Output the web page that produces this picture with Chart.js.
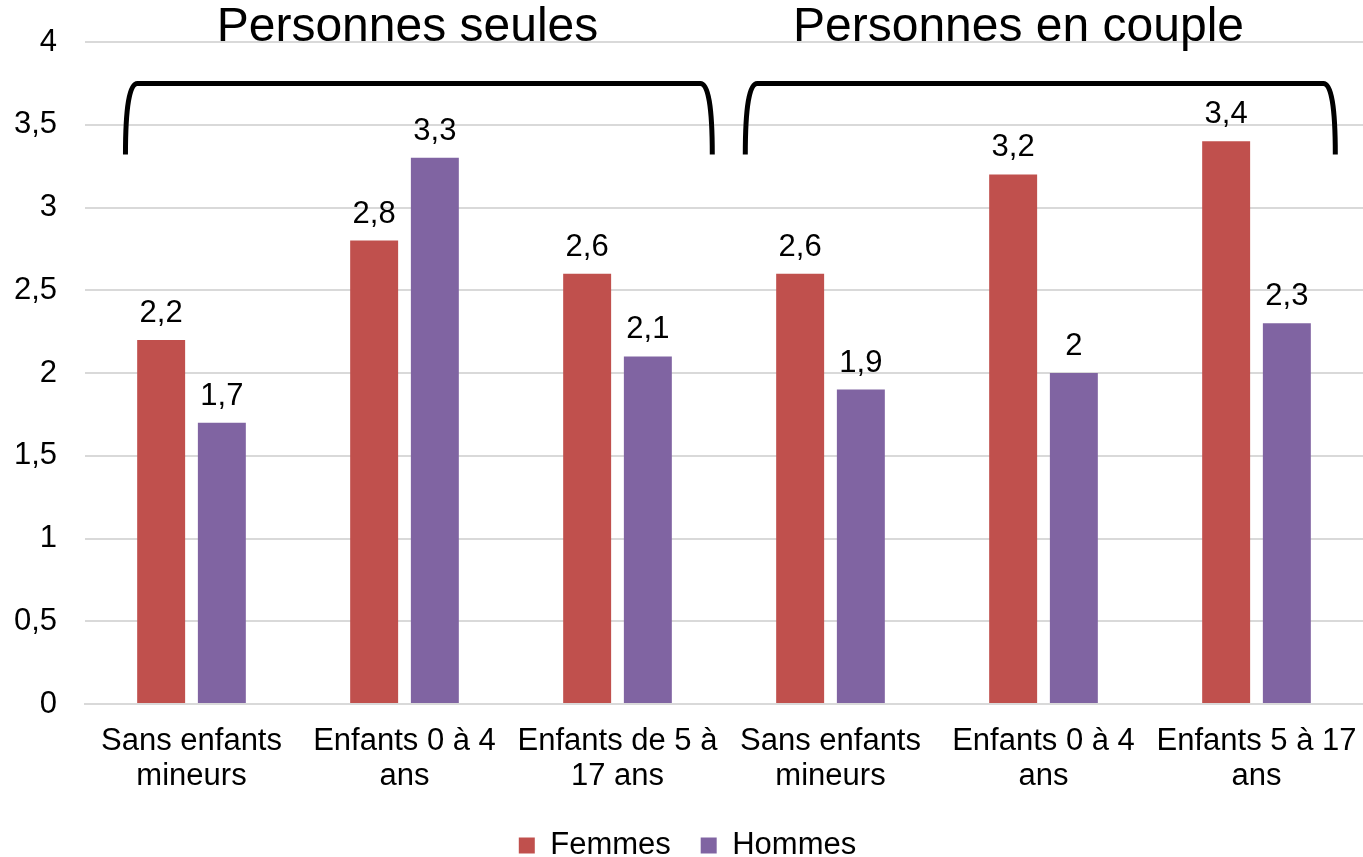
<!DOCTYPE html>
<html>
<head>
<meta charset="utf-8">
<script src="https://cdn.jsdelivr.net/npm/chart.js@4"></script>
<style>
  html, body { margin: 0; padding: 0; background: #fff; }
  #wrap { width: 1363px; height: 857px; position: relative; }
</style>
</head>
<body>
<div id="wrap"><canvas id="chart"></canvas></div>
<script>
  // categories (two lines each)
  const categories = [
    ['Sans enfants', 'mineurs'],
    ['Enfants 0 à 4', 'ans'],
    ['Enfants de 5 à', '17 ans'],
    ['Sans enfants', 'mineurs'],
    ['Enfants 0 à 4', 'ans'],
    ['Enfants 5 à 17', 'ans']
  ];
  const femmes = [2.2, 2.8, 2.6, 2.6, 3.2, 3.4];
  const hommes = [1.7, 3.3, 2.1, 1.9, 2.0, 2.3];
  const yTicks = [0, 0.5, 1, 1.5, 2, 2.5, 3, 3.5, 4];
  // groupes: titre, premier et dernier index de catégorie
  const groups = [
    { title: 'Personnes seules', from: 0, to: 2 },
    { title: 'Personnes en couple', from: 3, to: 5 }
  ];

  const font = 'Liberation Sans, Arial, sans-serif';
  const fr = v => String(v).replace('.', ',');

  // étiquettes de valeurs au-dessus des barres
  const valueLabels = {
    id: 'valueLabels',
    afterDatasetsDraw(chart) {
      const ctx = chart.ctx;
      ctx.save();
      ctx.font = '31px ' + font;
      ctx.fillStyle = '#000';
      ctx.textAlign = 'center';
      ctx.textBaseline = 'alphabetic';
      chart.data.datasets.forEach((ds, i) => {
        chart.getDatasetMeta(i).data.forEach((bar, j) => {
          ctx.fillText(fr(ds.data[j]), bar.x, bar.y - 18);
        });
      });
      ctx.restore();
    }
  };

  // accolades + titres des groupes
  const brackets = {
    id: 'brackets',
    afterDraw(chart) {
      const ctx = chart.ctx;
      const x = chart.scales.x, y = chart.scales.y;
      const half = (x.getPixelForValue(1) - x.getPixelForValue(0)) / 2;
      const top = y.getPixelForValue(3.75);
      const bot = y.getPixelForValue(3.32);
      ctx.save();
      groups.forEach((g, k) => {
        const l = x.getPixelForValue(g.from) - half * (k === 0 ? 0.62 : 0.8);
        const r = x.getPixelForValue(g.to) + half * (k === 0 ? 0.89 : 0.74);
        const rad = 12;
        ctx.strokeStyle = '#000';
        ctx.lineWidth = 5;
        ctx.beginPath();
        ctx.moveTo(l, bot);
        ctx.quadraticCurveTo(l, top, l + rad, top);
        ctx.lineTo(r - rad, top);
        ctx.quadraticCurveTo(r, top, r, bot);
        ctx.stroke();
        const mid = x.getPixelForValue((g.from + g.to) / 2) + (k === 0 ? 3 : -25);
        ctx.font = '48px ' + font;
        ctx.fillStyle = '#000';
        ctx.textAlign = 'center';
        ctx.textBaseline = 'middle';
        ctx.fillText(g.title, mid, 28);
      });
      ctx.restore();
    }
  };

  new Chart(document.getElementById('chart'), {
    type: 'bar',
    data: {
      labels: categories,
      datasets: [
        { label: 'Femmes', data: femmes, backgroundColor: '#C0504D' },
        { label: 'Hommes', data: hommes, backgroundColor: '#8064A2' }
      ]
    },
    options: {
      responsive: true,
      maintainAspectRatio: false,
      animation: false,
      devicePixelRatio: 1,
      layout: { padding: { top: 42, right: 0, left: 12, bottom: -14 } },
      categoryPercentage: 0.57,
      barPercentage: 0.79,
      plugins: {
        legend: {
          position: 'bottom',
          labels: {
            font: { family: font, size: 31 },
            color: '#000',
            boxWidth: 16,
            boxHeight: 16,
            padding: 4,
            generateLabels: chart => {
              const items = Chart.defaults.plugins.legend.labels.generateLabels(chart);
              items[0].text = items[0].text + '   ';
              return items;
            }
          }
        },
        tooltip: { enabled: false }
      },
      scales: {
        x: {
          grid: { display: false },
          border: { color: '#d9d9d9', width: 2 },
          afterFit: s => { s.height = 122; s.paddingLeft = 0; s.paddingRight = 0; },
          ticks: {
            font: { family: font, size: 31, lineHeight: 1.12 },
            color: '#000',
            maxRotation: 0,
            autoSkip: false,
            padding: 12
          }
        },
        y: {
          min: 0,
          max: 4,
          afterBuildTicks: axis => { axis.ticks = yTicks.map(v => ({ value: v })); },
          afterFit: s => { s.width = 73; s.paddingTop = 0; s.paddingBottom = 0; },
          grid: { color: '#d9d9d9', lineWidth: 2, drawTicks: false },
          border: { display: false },
          ticks: {
            font: { family: font, size: 31 },
            color: '#000',
            padding: 28,
            callback: v => fr(v)
          }
        }
      }
    },
    plugins: [valueLabels, brackets]
  });
</script>
</body>
</html>
